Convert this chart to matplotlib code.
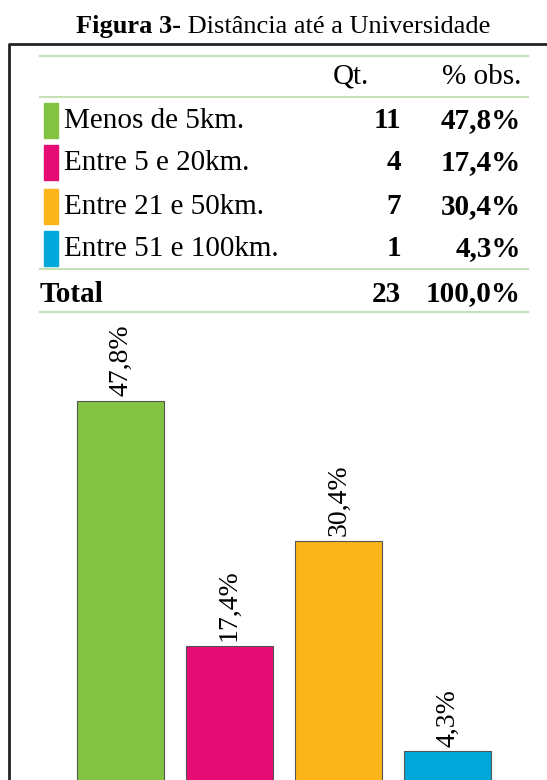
import matplotlib.pyplot as plt
from matplotlib.lines import Line2D
from matplotlib.patches import Rectangle

# dados
categorias = ["Menos de 5km.", "Entre 5 e 20km.", "Entre 21 e 50km.", "Entre 51 e 100km."]
quantidades = [11, 4, 7, 1]
percentuais = [47.8, 17.4, 30.4, 4.3]
rotulos_pct = ["47,8%", "17,4%", "30,4%", "4,3%"]
total_qt = 23
total_pct = "100,0%"
cores = ["#82C341", "#E50C73", "#FBB519", "#00A9D9"]

W, H = 547, 780
fig = plt.figure(figsize=(W / 100, H / 100), dpi=100)
serif = "Liberation Serif"


def fx(x):
    return x / W


def fy(y):
    return 1 - y / H


# titulo (parte em negrito + parte normal, centrado)
t1 = fig.text(0, fy(27), "Figura 3-", fontsize=19, fontweight="bold",
              family=serif, va="center", ha="left")
t2 = fig.text(0, fy(27), " Distância até a Universidade", fontsize=19,
              family=serif, va="center", ha="left")
fig.canvas.draw()
w1 = t1.get_window_extent().width
w2 = t2.get_window_extent().width
x0 = 283 - (w1 + w2) / 2
t1.set_x(fx(x0))
t2.set_x(fx(x0 + w1))

# moldura
fig.add_artist(Line2D([fx(9), fx(9), fx(W + 5)], [fy(H + 5), fy(44), fy(44)],
                      color="#222222", lw=2))

# tabela
verde_linha = "#C5E0B4"
for y in [56, 97, 269, 312]:
    fig.add_artist(Line2D([fx(40), fx(528)], [fy(y), fy(y)], color=verde_linha, lw=1.5))

fs = 21
fig.text(fx(369), fy(77), "Qt.", fontsize=fs, family=serif, ha="right", va="center")
fig.text(fx(521), fy(77), "% obs.", fontsize=fs, family=serif, ha="right", va="center")

linhas_y = [121, 163, 207, 249]
for cat, q, p, c, y in zip(categorias, quantidades, rotulos_pct, cores, linhas_y):
    fig.add_artist(Rectangle((fx(44), fy(y + 17)), 14 / W, 35 / H, color=c))
    fig.text(fx(64), fy(y), cat, fontsize=fs, family=serif, ha="left", va="center")
    fig.text(fx(401), fy(y), str(q), fontsize=fs, family=serif, fontweight="bold",
             ha="right", va="center")
    fig.text(fx(521), fy(y), p, fontsize=fs, family=serif, fontweight="bold",
             ha="right", va="center")

fig.text(fx(40), fy(294), "Total", fontsize=fs, family=serif, fontweight="bold",
         ha="left", va="center")
fig.text(fx(401), fy(294), str(total_qt), fontsize=fs, family=serif, fontweight="bold",
         ha="right", va="center")
fig.text(fx(521), fy(294), total_pct, fontsize=fs, family=serif, fontweight="bold",
         ha="right", va="center")

# grafico de barras
base = 786
topo = 302
ax = fig.add_axes([0, 1 - base / H, 1, (base - topo) / H])
ax.set_ylim(0, (base - topo) / 8.06)
ax.set_xlim(-120.5 / 109, (W - 120.5) / 109)
x = range(len(categorias))
ax.bar(x, percentuais, width=0.79, color=cores, edgecolor="#555555", linewidth=0.8)
for i, (v, r) in enumerate(zip(percentuais, rotulos_pct)):
    ax.text(i, v + 0.6, r, rotation=90, ha="center", va="bottom", fontsize=20,
            family=serif)
ax.axis("off")
ax.patch.set_alpha(0)

fig.savefig("out.png", dpi=100)
